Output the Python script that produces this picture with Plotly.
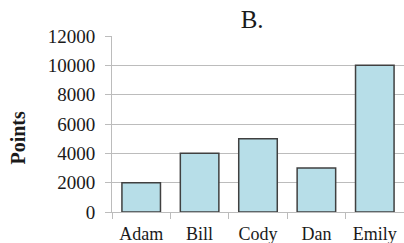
import plotly.graph_objects as go

categories = ["Adam", "Bill", "Cody", "Dan", "Emily"]
points = [2000, 4000, 5000, 3000, 10000]
y_ticks = [0, 2000, 4000, 6000, 8000, 10000, 12000]

FONT = "Liberation Serif"
GRID = "#bcbcbc"

fig = go.Figure(go.Bar(
    x=categories, y=points,
    marker=dict(color="#b7dee8", line=dict(color="#404040", width=1.5)),
    width=0.66,
))

fig.update_layout(
    width=404, height=243,
    margin=dict(l=112, r=0, t=36, b=31),
    paper_bgcolor="white", plot_bgcolor="white",
    font=dict(family=FONT, size=19, color="#1a1a1a"),
    showlegend=False,
    title=dict(text="B.", x=0.624, xref="container", xanchor="center",
               y=0.885, yref="container", yanchor="bottom",
               font=dict(family=FONT, size=25, color="#1a1a1a")),
    annotations=[dict(text="<b>Points</b>", textangle=-90, showarrow=False,
                      xref="paper", yref="paper", x=-0.322, y=0.423,
                      xanchor="center", yanchor="middle",
                      font=dict(family=FONT, size=20, color="#1a1a1a"))],
)
fig.update_xaxes(
    type="category", tickson="boundaries", ticks="outside", ticklen=6,
    tickcolor=GRID, showline=True, linecolor=GRID, linewidth=1,
    showgrid=False, tickfont=dict(family=FONT, size=18),
    ticklabelstandoff=5,
)
fig.update_yaxes(
    range=[0, 12000], tickvals=y_ticks, ticktext=[str(v) for v in y_ticks],
    ticks="outside", ticklen=6, tickcolor=GRID, showline=True, linecolor=GRID,
    linewidth=1, showgrid=True, gridcolor=GRID, gridwidth=1, zeroline=False,
    ticklabelstandoff=6,
)

fig.write_html("out.html", config={"displayModeBar": False},
               post_script="document.body.style.margin='0';document.body.style.overflow='hidden';")
